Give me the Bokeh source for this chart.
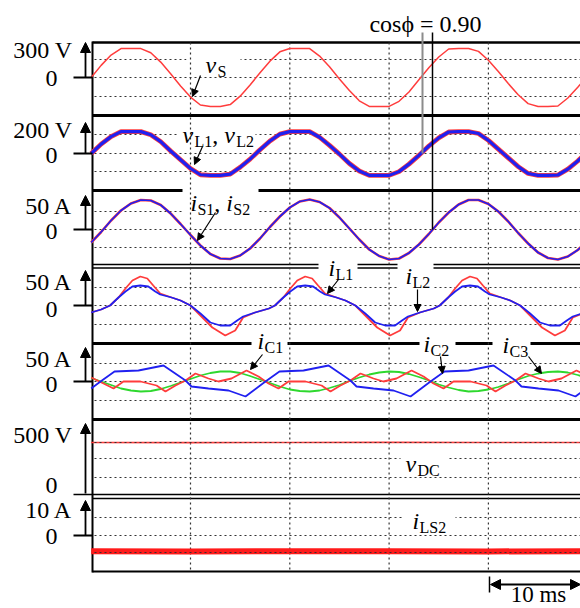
from bokeh.plotting import figure
from bokeh.models import Range1d, Arrow, NormalHead
from bokeh.core.properties import value
from bokeh.embed import file_html
from bokeh.resources import INLINE

# ------------------------------------------------------------------ data
# time axis (ms), 10 ms per division
t_ms = list(range(0, 51))
grid_ms = [10, 20, 30, 40]

# supply voltage vS (V)
vs_V = [0, 130, 240, 310, 310, 310, 265, 165, 40, -90, -210, -295, -310, -310, -290, -200, -80,
        50, 175, 275, 310, 310, 310, 230, 115, -15, -140, -250, -310, -310, -310, -255, -155,
        -25, 105, 220, 305, 310, 310, 280, 185, 65, -65, -185, -280, -310, -310, -305, -220, -105, 25]
# load voltages vL1, vL2 (V)
vL_V = [0, 75, 135, 175, 175, 175, 150, 95, 20, -50, -120, -170, -175, -175, -165, -110, -45,
        30, 100, 155, 175, 175, 175, 130, 65, -5, -80, -140, -175, -175, -175, -145, -85,
        -15, 60, 125, 172, 175, 175, 160, 105, 35, -35, -105, -160, -175, -175, -172, -125, -60, 15]
# source currents iS1, iS2 (A)
iS_A = [-26, -5, 18, 38, 52, 59, 58, 49, 32, 11, -11, -32, -49, -58, -59, -52, -38, -18, 5, 26,
        44, 56, 60, 55, 43, 24, 2, -20, -40, -53, -60, -58, -47, -30, -9, 14, 34, 50, 59, 59, 51,
        36, 16, -7, -28, -46, -57, -60, -54, -41, -22]
# load currents iL1 (red) and iL2 (blue), A
iL1_t = [0.0, 1.0, 1.9, 2.75, 3.45, 4.15, 4.95, 5.65, 6.25, 6.95, 8.1, 9.0, 10.0, 11.0, 12.2, 13.5,
         14.5, 15.3, 16.5, 17.9, 18.5, 19.35, 20.05, 20.75, 21.55, 22.25, 22.85, 23.55, 24.7, 25.6,
         26.6, 27.6, 28.8, 30.1, 31.1, 31.9, 33.1, 34.5, 35.1, 35.95, 36.65, 37.35, 38.15, 38.85,
         39.45, 40.15, 41.3, 42.2, 43.2, 44.2, 45.4, 46.7, 47.7, 48.5, 49.7, 51.1]
iL1_A = [-14, -8, 0, 16, 34, 50, 58, 54, 40, 24, 16, 10, 0, -20, -44, -60, -50, -24, -14, -6, 0,
         16, 34, 50, 58, 54, 40, 24, 16, 10, 0, -20, -44, -60, -50, -24, -14, -6, 0, 16, 34, 50,
         58, 54, 40, 24, 16, 10, 0, -20, -44, -60, -50, -24, -14, -6]
iL2_t = [0.0, 1.0, 1.9, 2.75, 3.45, 4.15, 4.95, 5.75, 6.45, 6.95, 8.1, 9.0, 10.0, 11.0, 12.0, 13.0,
         14.0, 14.7, 15.3, 16.5, 17.9, 18.5, 19.35, 20.05, 20.75, 21.55, 22.35, 23.05, 23.55, 24.7,
         25.6, 26.6, 27.6, 28.6, 29.6, 30.6, 31.3, 31.9, 33.1, 34.5, 35.1, 35.95, 36.65, 37.35,
         38.15, 38.95, 39.65, 40.15, 41.3, 42.2, 43.2, 44.2, 45.2, 46.2, 47.2, 47.9, 48.5, 49.7, 51.1]
iL2_A = [-14, -8, 0, 16, 28, 38, 40, 38, 28, 22, 16, 10, 0, -16, -34, -40, -40, -30, -22, -14, -6,
         0, 16, 28, 38, 40, 38, 28, 22, 16, 10, 0, -16, -34, -40, -40, -30, -22, -14, -6, 0, 16, 28,
         38, 40, 38, 28, 22, 16, 10, 0, -16, -34, -40, -40, -30, -22, -14, -6]
# capacitor currents iC1 (red), iC2 (blue), iC3 (green), A
iC1_t = [0.0, 1.24, 2.25, 3.25, 4.96, 6.58, 7.48, 8.49, 9.5, 10.5, 11.81, 12.82, 14.13, 15.64,
         16.85, 17.86, 18.86, 19.87, 21.58, 23.2, 24.1, 25.1, 26.11, 27.12, 28.43, 29.43, 30.74,
         32.26, 33.47, 34.47, 35.48, 36.49, 38.2, 39.81, 40.72, 41.72, 42.73, 43.74, 45.05, 46.06,
         47.36, 48.87, 50.08]
iC1_A = [8, -4, -14, 0, 0, -8, -20, -8, 2, 16, 6, 0, 6, 22, 10, -4, -14, 0, 0, -8, -20, -8, 2, 16,
         6, 0, 6, 22, 10, -4, -14, 0, 0, -8, -20, -8, 2, 16, 6, 0, 6, 22, 10]
iC2_t = [0.0, 0.94, 2.35, 4.76, 7.28, 9.5, 10.1, 11.81, 13.83, 15.54, 17.55, 18.96, 21.38, 23.9,
         26.11, 26.72, 28.43, 30.44, 32.16, 34.17, 35.58, 38.0, 40.51, 42.73, 43.33, 45.05, 47.06,
         48.77, 50.79]
iC2_A = [-14, 0, 20, 22, 32, 2, -10, -14, -18, -30, 0, 20, 22, 32, 2, -10, -14, -18, -30, 0, 20,
         22, 32, 2, -10, -14, -18, -30, 0]
iC3_A = [7, 0, -7, -14, -18, -20, -19, -15, -9, -2, 5, 12, 17, 20, 20, 17, 11, 4, -3, -10, -16,
         -19, -20, -18, -13, -7, 1, 8, 14, 18, 20, 19, 15, 9, 2, -6, -12, -17, -20, -19, -16, -11,
         -4, 4, 11, 16, 19, 20, 18, 13, 6]
# dc-link voltage (V) and inductor current iLS2 (A)
dc_t = [0, 10, 20, 30, 40, 50]
vDC_V = [425, 424, 425, 426, 425, 425]
iLS2_A = [-5.8, -5.9, -5.8, -5.8, -5.9, -5.8]

# ------------------------------------------------------------------ layout
W, H = 580, 608
X0, PXMS = 90.7, 9.93          # screen x of t=0 and pixels per ms
FL, FR = 92, 580               # frame left / right
RED, BLUE, GREEN = "#ff3c3c", "#2020f0", "#2ed82e"
FONT = value("Liberation Serif")

# name: (zero px, px per unit, grid rows px, unit label, label centre, zero-label centre, arrow tip)
panels = {
    "p1": (77, 28 / 300, [59, 77, 96], "300 V", 49, 78, 42),
    "p2": (153, 25 / 200, [134, 153, 171], "200 V", 129, 155, 122),
    "p3": (229, 0.5, [211, 229, 247], "50 A", 205, 231, 195),
    "p4": (305, 0.5, [287, 305, 324], "50 A", 281, 309, 270),
    "p5": (381, 0.5, [363, 381, 400], "50 A", 358, 384, 347),
    "p6": (493, 0.12, [442, 458, 477], "500 V", 434, 485, 423),
    "p7": (535, 2.7, [517, 535, 552], "10 A", 509, 536, 500),
}

p = figure(width=W, height=H, x_range=Range1d(0, W), y_range=Range1d(H, 0),
           x_axis_type=None, y_axis_type=None, toolbar_location=None, title=None,
           output_backend="svg", min_border=0, outline_line_color=None,
           background_fill_color="white", border_fill_color="white")
p.extra_x_ranges = {"ms": Range1d(-X0 / PXMS, (W - X0) / PXMS)}
p.extra_y_ranges = {n: Range1d((z - H) / k, z / k) for n, (z, k, *_r) in panels.items()}

DOT = dict(line_dash="2 3", line_color="#333333", line_width=1.2)

# horizontal dotted grid rows
for n, (z, k, rows, *_r) in panels.items():
    p.segment(x0=[FL + 2] * len(rows), x1=[FR] * len(rows), y0=rows, y1=rows, **DOT)

# panel borders
def hseg(y, spans, w):
    p.segment(x0=[a for a, b in spans], x1=[b for a, b in spans], y0=[y] * len(spans),
              y1=[y] * len(spans), line_color="black", line_width=w)

hseg(42, [(FL, FR)], 2.5)
hseg(115, [(FL, FR)], 3)
hseg(190, [(FL, FR)], 3)
hseg(264, [(FL, FR)], 1.3)
hseg(267.5, [(FL, FR)], 1.3)
hseg(343, [(FL, FR)], 3)
hseg(419, [(FL, FR)], 3)
hseg(494, [(73, FR)], 1.3)
hseg(498, [(FL, FR)], 1.3)
hseg(571, [(FL, FR)], 2)

# white label backgrounds (they open gaps in the grid rows and borders)
boxes = [(186, 240, 51, 67), (178, 255, 124, 146), (182, 258, 186, 214), (318, 357, 259, 272),
         (397, 433, 259, 292), (251, 287, 337, 352), (419, 455, 337, 352), (492, 530, 337, 352),
         (400, 448, 452, 470), (402, 455, 508, 530)]
p.quad(left=[b[0] for b in boxes], right=[b[1] for b in boxes], top=[b[2] for b in boxes],
       bottom=[b[3] for b in boxes], fill_color="white", line_color=None)

# vertical dotted grid (time divisions)
p.segment(x0=grid_ms, x1=grid_ms, y0=[42] * 4, y1=[571] * 4, x_range_name="ms", **DOT)
# left frame
p.segment(x0=[FL], x1=[FL], y0=[41], y1=[572], line_color="black", line_width=2)

# ------------------------------------------------------------------ waveforms
p.line(t_ms, vs_V, x_range_name="ms", y_range_name="p1", line_color=RED, line_width=1.5)
p.line(t_ms, vL_V, x_range_name="ms", y_range_name="p2", line_color=RED, line_width=4.8)
p.line(t_ms, vL_V, x_range_name="ms", y_range_name="p2", line_color=BLUE, line_width=3.2)
p.line(t_ms, iS_A, x_range_name="ms", y_range_name="p3", line_color=RED, line_width=2.6)
p.line(t_ms, iS_A, x_range_name="ms", y_range_name="p3", line_color=BLUE, line_width=1.7)
p.line(iL1_t, iL1_A, x_range_name="ms", y_range_name="p4", line_color=RED, line_width=1.8)
p.line(iL2_t, iL2_A, x_range_name="ms", y_range_name="p4", line_color=BLUE, line_width=1.8)
p.line(t_ms, iC3_A, x_range_name="ms", y_range_name="p5", line_color=GREEN, line_width=1.8)
p.line(iC1_t, iC1_A, x_range_name="ms", y_range_name="p5", line_color=RED, line_width=1.8)
p.line(iC2_t, iC2_A, x_range_name="ms", y_range_name="p5", line_color=BLUE, line_width=1.8)
p.line(dc_t, vDC_V, x_range_name="ms", y_range_name="p6", line_color=RED, line_width=1.6)
p.line(dc_t, iLS2_A, x_range_name="ms", y_range_name="p7", line_color="#ff1a1a", line_width=6)
# grid rows seen through the flat traces
p.segment(x0=[FL + 2] * 2, x1=[FR] * 2, y0=[442, 552], y1=[442, 552], **DOT)

# cursor lines for cos(phi)
p.segment(x0=[422], x1=[422], y0=[32], y1=[153], line_color="#8c8c8c", line_width=2)
p.segment(x0=[432], x1=[432], y0=[32], y1=[229], line_color="black", line_width=1.5)

# ------------------------------------------------------------------ left scale marks
for n, (z, k, rows, lab, lab_y, zero_y, tip) in panels.items():
    if n != "p6":
        p.segment(x0=[73], x1=[FL], y0=[z], y1=[z], line_color="black", line_width=1.8)
    p.add_layout(Arrow(end=NormalHead(size=10, fill_color="black", line_color="black"),
                       x_start=85, y_start=z, x_end=85, y_end=tip,
                       line_color="black", line_width=1.8))
    p.text(x=[72], y=[lab_y], text=[lab], text_font=FONT, text_font_size="24px",
           text_align="right", text_baseline="middle", text_color="black")
    p.text(x=[57], y=[zero_y], text=["0"], text_font=FONT, text_font_size="24px",
           text_align="right", text_baseline="middle", text_color="black")

# ------------------------------------------------------------------ trace names
EM = {"v": 0.5, "i": 0.29, "S": 0.556, "L": 0.611, "C": 0.667, "D": 0.722,
      "1": 0.5, "2": 0.5, "3": 0.5, ",": 0.25, " ": 0.25}

def label(x, y, parts):
    """x: left edge, y: baseline of the main letters"""
    cx = x
    for txt, kind in parts:
        size = 16 if kind == "s" else 24
        yy = y - 1 if kind == "s" else y - 8
        p.text(x=[cx], y=[yy], text=[txt], text_font=FONT, text_font_size=f"{size}px",
               text_font_style="italic" if kind == "m" else "normal",
               text_align="left", text_baseline="middle", text_color="black")
        cx += sum(EM[c] for c in txt) * size

label(205, 72, [("v", "m"), ("S", "s")])
label(182, 142, [("v", "m"), ("L1", "s"), (", ", "p"), ("v", "m"), ("L2", "s")])
label(190, 210, [("i", "m"), ("S1", "s"), (", ", "p"), ("i", "m"), ("S2", "s")])
label(328, 275, [("i", "m"), ("L1", "s")])
label(405, 283, [("i", "m"), ("L2", "s")])
label(257, 348, [("i", "m"), ("C1", "s")])
label(423, 351, [("i", "m"), ("C2", "s")])
label(502, 352, [("i", "m"), ("C3", "s")])
label(405, 471, [("v", "m"), ("DC", "s")])
label(412, 528, [("i", "m"), ("LS2", "s")])

pointers = [(200, 75, 192, 96), (202, 146, 194, 164), (215, 212, 197, 240), (338, 279, 327, 293),
            (417, 289, 417, 311), (262, 354, 250, 369), (440, 356, 442, 373), (528, 356, 541, 373)]
for xs, ys, xe, ye in pointers:
    p.add_layout(Arrow(end=NormalHead(size=7, fill_color="black", line_color="black"),
                       x_start=xs, y_start=ys, x_end=xe, y_end=ye,
                       line_color="black", line_width=1.2))

p.text(x=[425], y=[23], text=["cos\u03d5 = 0.90"], text_font=FONT, text_font_size="24px",
       text_align="center", text_baseline="middle", text_color="black")

# time scale bar
p.segment(x0=[489], x1=[489], y0=[576], y1=[592], line_color="black", line_width=1.5)
p.add_layout(Arrow(start=NormalHead(size=10, fill_color="black", line_color="black"),
                   end=NormalHead(size=10, fill_color="black", line_color="black"),
                   x_start=490, y_start=584, x_end=580, y_end=584,
                   line_color="black", line_width=1.8))
p.text(x=[538], y=[594], text=["10 ms"], text_font=FONT, text_font_size="23px",
       text_align="center", text_baseline="middle", text_color="black")

open("out.html", "w").write(file_html(p, INLINE))
